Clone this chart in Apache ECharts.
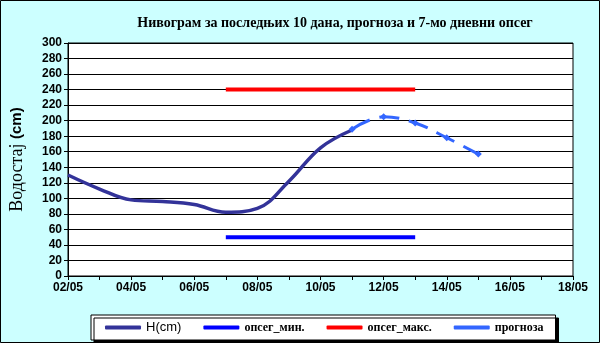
<!DOCTYPE html>
<html><head><meta charset="utf-8">
<script src="https://cdn.jsdelivr.net/npm/echarts@6/dist/echarts.min.js"></script>
<style>html,body{margin:0;padding:0;background:#fff}#c{width:600px;height:343px}</style>
</head><body><div id="c"></div>
<script>
const hDates = ['02/05','03/05','04/05','05/05','06/05','07/05','08/05','09/05','10/05','11/05'];
const hValues = [130,112,98,96,92,82,87,122,165,188];
const fcDates = ['11/05','12/05','13/05','14/05','15/05'];
const fcValues = [189,205,197,178,157];
const rangeDates = ['07/05','13/05'];
const minValues = [50,50];
const maxValues = [240,240];
const xTickLabels = ['02/05','04/05','06/05','08/05','10/05','12/05','14/05','16/05','18/05'];

const dayNum = s => parseInt(s.split('/')[0],10);
const pairs = (d,v) => d.map((s,i)=>[dayNum(s), v[i]]);
const pad = n => (n<10?'0':'')+n+'/05';

const chart = echarts.init(document.getElementById('c'));
const serif = '"Liberation Serif","Times New Roman",serif';
const sans = '"Liberation Sans",Arial,sans-serif';
chart.setOption({
  backgroundColor:'#CCFFFF',
  animation:false,
  title:{text:'Нивограм за последњих 10 дана, прогноза и 7-мо дневни опсег',left:330,textAlign:'center',top:11,
    textStyle:{fontFamily:serif,fontSize:14,fontWeight:'bold',color:'#000'}},
  grid:{left:66,right:27,top:43,bottom:67,show:true,backgroundColor:'#fff',borderColor:'#000',borderWidth:1},
  xAxis:{type:'value',min:dayNum(xTickLabels[0]),max:dayNum(xTickLabels[xTickLabels.length-1]),interval:2,
    axisLine:{lineStyle:{color:'#000',width:1}},
    axisTick:{show:true,length:4,lineStyle:{color:'#000'}},
    minorTick:{show:true,splitNumber:2,length:4,lineStyle:{color:'#000'}},
    splitLine:{show:false},
    axisLabel:{formatter:v=>pad(v),color:'#000',fontFamily:sans,fontWeight:'bold',fontSize:12,margin:6}},
  yAxis:{type:'value',min:0,max:300,interval:20,
    name:'{a|Водостај }{b|(cm)}',nameLocation:'middle',nameGap:42,nameRotate:90,
    nameTextStyle:{rich:{a:{fontFamily:serif,fontSize:18,color:'#000'},b:{fontFamily:sans,fontSize:15,fontWeight:'bold',color:'#000'}}},
    axisLine:{show:true,lineStyle:{color:'#000'}},
    axisTick:{show:true,length:4,lineStyle:{color:'#000'}},
    splitLine:{show:true,lineStyle:{color:'#000',width:1}},
    axisLabel:{color:'#000',fontFamily:sans,fontWeight:'bold',fontSize:12,margin:6}},
  legend:{left:91,top:315,width:460,height:24,itemGap:22,padding:[6,12,6,14],
    backgroundColor:'#fff',borderColor:'#000',borderWidth:1,
    shadowColor:'#000',shadowOffsetX:3,shadowOffsetY:3,shadowBlur:0,
    itemWidth:36,itemHeight:4,icon:'roundRect',
    textStyle:{fontFamily:serif,fontSize:12,fontWeight:'bold',color:'#000'},
    data:[{name:'H(cm)',textStyle:{fontFamily:sans,fontWeight:'normal',fontSize:13}},'опсег_мин.','опсег_макс.','прогноза']},
  series:[
    {name:'H(cm)',type:'line',data:pairs(hDates,hValues),smooth:0.4,symbol:'none',
     lineStyle:{color:'#333399',width:3.5},itemStyle:{color:'#333399'}},
    {name:'опсег_мин.',type:'line',data:pairs(rangeDates,minValues),symbol:'none',
     lineStyle:{color:'#0000FF',width:4},itemStyle:{color:'#0000FF'}},
    {name:'опсег_макс.',type:'line',data:pairs(rangeDates,maxValues),symbol:'none',
     lineStyle:{color:'#FF0000',width:4},itemStyle:{color:'#FF0000'}},
    {name:'прогноза',type:'line',data:pairs(fcDates,fcValues),smooth:0.4,symbol:'diamond',symbolSize:7,
     lineStyle:{color:'#3366FF',width:3,type:[20,10]},itemStyle:{color:'#3366FF'}}
  ],
  graphic:[{type:'rect',shape:{x:0.5,y:0.5,width:599,height:342},style:{fill:'none',stroke:'#000',lineWidth:1},silent:true}]
});
</script></body></html>
